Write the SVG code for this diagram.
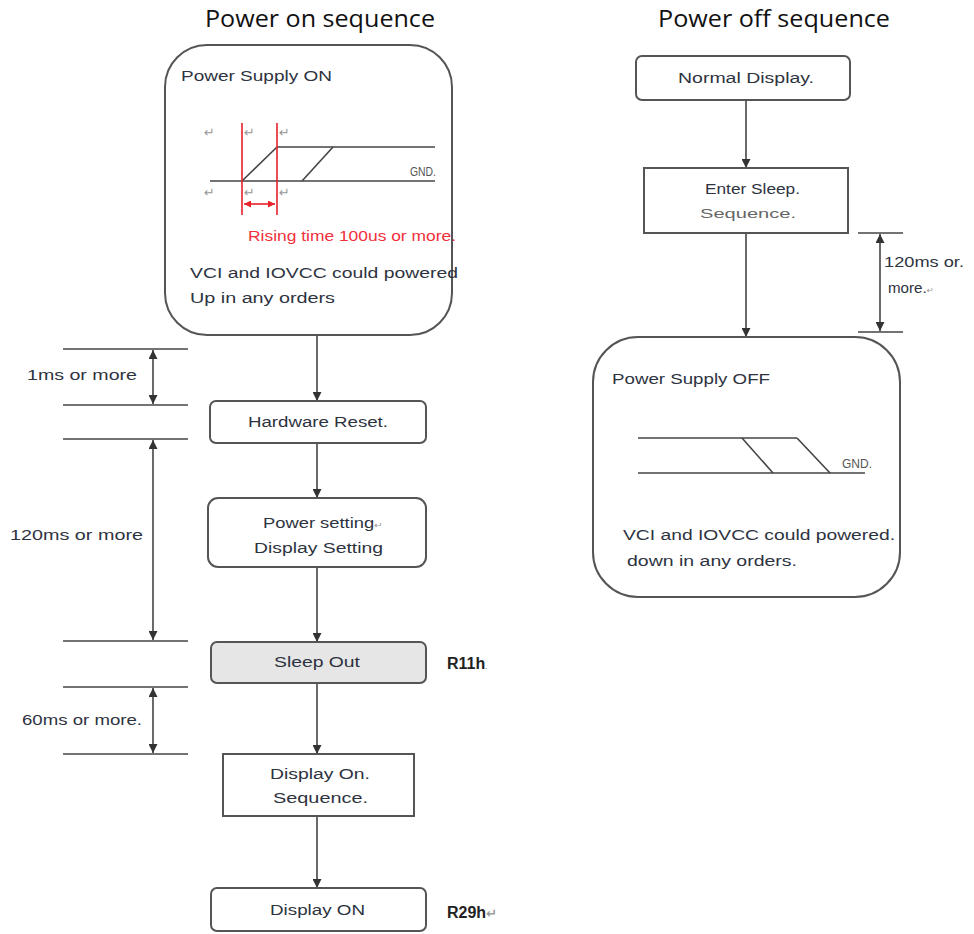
<svg xmlns="http://www.w3.org/2000/svg" width="974" height="934" viewBox="0 0 974 934">
<defs>
<style>
.t{font-family:"Liberation Sans","DejaVu Sans",sans-serif;font-size:14px;fill:#2e3340}
.ttl{font-family:"Open Sans","Liberation Sans",sans-serif;font-size:24px;fill:#111}
.b{font-weight:bold;font-size:16px}
.pm{font-size:8px;fill:#999}
.box{fill:#fff;stroke:#555;stroke-width:2}
.gray{fill:#e6e6e6}
.ln{stroke:#444;stroke-width:1.6;fill:none}
.dim{stroke:#444;stroke-width:1.6;fill:none}
.red{stroke:#e8202a;stroke-width:1.6;fill:none}
.arr{stroke:#444;stroke-width:1.6;fill:none;marker-end:url(#ah)}
.darr{stroke:#444;stroke-width:1.6;fill:none;marker-start:url(#ah);marker-end:url(#ah)}
.rarr{stroke:#e8202a;stroke-width:1.6;fill:none;marker-start:url(#rh);marker-end:url(#rh)}
.ret{font-family:"DejaVu Sans",sans-serif;font-size:13px;fill:#999}
</style>
<marker id="ah" viewBox="0 0 10 10" refX="10" refY="5" markerWidth="9" markerHeight="9" markerUnits="userSpaceOnUse" orient="auto-start-reverse">
<path d="M0,0 L10,5 L0,10 z" fill="#333"/>
</marker>
<marker id="rh" viewBox="0 0 10 10" refX="10" refY="5" markerWidth="7" markerHeight="7" markerUnits="userSpaceOnUse" orient="auto-start-reverse">
<path d="M0,0 L10,5 L0,10 z" fill="#e8202a"/>
</marker>
</defs>
<rect width="974" height="934" fill="#fff"/>

<text class="ttl" x="205" y="27" textLength="230" lengthAdjust="spacingAndGlyphs">Power on sequence</text>
<text class="ttl" x="658" y="27" textLength="232" lengthAdjust="spacingAndGlyphs">Power off sequence</text>

<g id="connectors">
<line class="arr" x1="317" y1="335" x2="317" y2="401"/>
<line class="arr" x1="317" y1="443" x2="317" y2="498"/>
<line class="arr" x1="317" y1="567" x2="317" y2="642"/>
<line class="arr" x1="317" y1="683" x2="317" y2="754"/>
<line class="arr" x1="317" y1="816" x2="317" y2="888"/>
<line class="arr" x1="746" y1="100" x2="746" y2="168"/>
<line class="arr" x1="746" y1="233" x2="746" y2="337"/>
</g>

<g id="timing-left">
<line class="dim" x1="63" y1="349" x2="188" y2="349"/>
<line class="dim" x1="63" y1="405" x2="188" y2="405"/>
<line class="dim" x1="63" y1="439" x2="188" y2="439"/>
<line class="dim" x1="63" y1="641" x2="188" y2="641"/>
<line class="dim" x1="63" y1="687" x2="188" y2="687"/>
<line class="dim" x1="63" y1="754" x2="188" y2="754"/>
<line class="darr" x1="153" y1="350" x2="153" y2="404"/>
<line class="darr" x1="153" y1="440" x2="153" y2="640"/>
<line class="darr" x1="153" y1="688" x2="153" y2="753"/>
<text class="t" x="27" y="380" textLength="110" lengthAdjust="spacingAndGlyphs">1ms or more</text>
<text class="t" x="10" y="540" textLength="133" lengthAdjust="spacingAndGlyphs">120ms or more</text>
<text class="t" x="22" y="725" textLength="120" lengthAdjust="spacingAndGlyphs">60ms or more.</text>
</g>

<g id="timing-right">
<line class="dim" x1="858" y1="233" x2="903" y2="233"/>
<line class="dim" x1="858" y1="332" x2="903" y2="332"/>
<line class="darr" x1="880" y1="234" x2="880" y2="331"/>
<text class="t" x="884" y="267" textLength="80" lengthAdjust="spacingAndGlyphs">120ms or.</text>
<text class="t" x="888" y="293" textLength="46" lengthAdjust="spacingAndGlyphs">more.<tspan class="pm">↵</tspan></text>
</g>

<g id="power-supply-on">
<rect class="box" x="165" y="45" width="287" height="290" rx="42"/>
<text class="t" x="181" y="81" textLength="151" lengthAdjust="spacingAndGlyphs">Power Supply ON</text>
<text class="ret" x="204" y="137">↵</text>
<text class="ret" x="244" y="137">↵</text>
<text class="ret" x="279" y="137">↵</text>
<text class="ret" x="204" y="197">↵</text>
<text class="ret" x="244" y="197">↵</text>
<text class="ret" x="279" y="197">↵</text>
<line class="ln" x1="277" y1="147" x2="435" y2="147"/>
<line class="ln" x1="210" y1="181" x2="435" y2="181"/>
<line class="ln" x1="242" y1="181" x2="277" y2="147"/>
<line class="ln" x1="302" y1="181" x2="333" y2="147"/>
<line class="red" x1="242" y1="123" x2="242" y2="215"/>
<line class="red" x1="277" y1="123" x2="277" y2="215"/>
<line class="rarr" x1="244" y1="204" x2="275" y2="204"/>
<text class="t" x="410" y="176" textLength="26" lengthAdjust="spacingAndGlyphs" style="font-size:12px;fill:#555">GND.</text>
<text class="t" x="248" y="241" textLength="208" lengthAdjust="spacingAndGlyphs" style="fill:#f0303a">Rising time 100us or more.</text>
<text class="t" x="190" y="278" textLength="268" lengthAdjust="spacingAndGlyphs">VCI and IOVCC could powered</text>
<text class="t" x="190" y="303" textLength="145" lengthAdjust="spacingAndGlyphs">Up in any orders</text>
</g>

<g id="hardware-reset">
<rect class="box" x="210" y="401" width="216" height="42" rx="6"/>
<text class="t" x="248" y="427" textLength="140" lengthAdjust="spacingAndGlyphs">Hardware Reset.</text>
</g>

<g id="power-setting">
<rect class="box" x="208" y="498" width="218" height="69" rx="10"/>
<text class="t" x="263" y="528" textLength="120" lengthAdjust="spacingAndGlyphs">Power setting<tspan class="pm">↵</tspan></text>
<text class="t" x="254" y="553" textLength="129" lengthAdjust="spacingAndGlyphs">Display Setting</text>
</g>

<g id="sleep-out">
<rect class="box gray" x="211" y="642" width="215" height="41" rx="6"/>
<text class="t" x="274" y="667" textLength="86" lengthAdjust="spacingAndGlyphs">Sleep Out</text>
<text class="t b" x="447" y="669" style="fill:#222">R11h<tspan class="pm">.</tspan></text>
</g>

<g id="display-on-sequence">
<rect class="box" x="223" y="754" width="191" height="62"/>
<text class="t" x="270" y="779" textLength="100" lengthAdjust="spacingAndGlyphs">Display On.</text>
<text class="t" x="273" y="803" textLength="95" lengthAdjust="spacingAndGlyphs">Sequence.</text>
</g>

<g id="display-on">
<rect class="box" x="211" y="888" width="215" height="43" rx="6"/>
<text class="t" x="270" y="915" textLength="95" lengthAdjust="spacingAndGlyphs">Display ON</text>
<text class="t b" x="447" y="918" style="fill:#222">R29h<tspan class="ret">↵</tspan></text>
</g>

<g id="normal-display">
<rect class="box" x="636" y="56" width="214" height="44" rx="6"/>
<text class="t" x="678" y="83" textLength="136" lengthAdjust="spacingAndGlyphs">Normal Display.</text>
</g>

<g id="enter-sleep">
<rect class="box" x="644" y="168" width="204" height="65"/>
<text class="t" x="705" y="194" textLength="95" lengthAdjust="spacingAndGlyphs">Enter Sleep.</text>
<text class="t" x="700" y="218" textLength="96" lengthAdjust="spacingAndGlyphs" style="font-size:12px;fill:#666">Sequence.</text>
</g>

<g id="power-supply-off">
<rect class="box" x="593" y="337" width="307" height="260" rx="45"/>
<text class="t" x="612" y="384" textLength="158" lengthAdjust="spacingAndGlyphs">Power Supply OFF</text>
<line class="ln" x1="638" y1="438" x2="797" y2="438"/>
<line class="ln" x1="638" y1="473" x2="865" y2="473"/>
<line class="ln" x1="742" y1="438" x2="773" y2="473"/>
<line class="ln" x1="797" y1="438" x2="830" y2="473"/>
<text class="t" x="842" y="468" textLength="30" lengthAdjust="spacingAndGlyphs" style="font-size:12px;fill:#555">GND.</text>
<text class="t" x="623" y="540" textLength="272" lengthAdjust="spacingAndGlyphs">VCI and IOVCC could powered.</text>
<text class="t" x="627" y="566" textLength="170" lengthAdjust="spacingAndGlyphs">down in any orders.</text>
</g>
</svg>
